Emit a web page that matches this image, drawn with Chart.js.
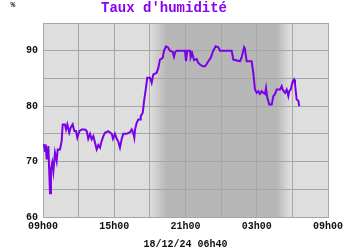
<!DOCTYPE html>
<html>
<head>
<meta charset="utf-8">
<script src="https://cdn.jsdelivr.net/npm/chart.js@4"></script>
<style>
  html, body { margin: 0; padding: 0; background: #fff; }
  #wrap { width: 350px; height: 250px; }
</style>
</head>
<body>
<div id="wrap"><canvas id="humChart" width="350" height="250"></canvas></div>
<script>
// hours elapsed since 09h00 on 17/12
const hours = [
  0, 0.08, 0.17, 0.23, 0.31, 0.45, 0.59, 0.67, 0.78, 0.87, 1.01, 1.15, 1.24, 1.43, 1.57,
  1.66, 1.85, 1.94, 2.05, 2.21, 2.33, 2.50, 2.64, 2.78, 2.89, 3.06, 3.26, 3.54, 3.68,
  3.81, 3.96, 4.10, 4.24, 4.38, 4.52, 4.66, 4.80, 4.94, 5.08, 5.22, 5.50, 5.79, 5.89,
  6.06, 6.21, 6.34, 6.48, 6.63, 6.76, 7.05, 7.33, 7.47, 7.60, 7.69, 7.75, 7.89, 8.03,
  8.17, 8.23, 8.40, 8.51, 8.67, 8.78, 9.01, 9.15, 9.29, 9.57, 9.71, 9.85, 10.08, 10.19,
  10.36, 10.53, 10.69, 10.92, 11.03, 11.14, 11.26, 11.96, 12.04, 12.15, 12.38, 12.44,
  12.57, 12.72, 12.94, 13.08, 13.22, 13.45, 13.64, 13.79, 13.92, 14.12, 14.34, 14.54,
  14.76, 14.91, 15.89, 16.03, 16.59, 16.73, 16.93, 17.01, 17.15, 17.57, 17.71, 17.85,
  18.00, 18.13, 18.27, 18.42, 18.55, 18.69, 18.78, 18.89, 19.06, 19.26, 19.40, 19.54,
  19.68, 19.96, 20.10, 20.18, 20.38, 20.52, 20.66, 20.74, 20.86, 21.03, 21.14, 21.22,
  21.36, 21.50, 21.58
];
const humidity = [
  73, 73.1, 71.9, 73.1, 70.4, 72.8, 64.3, 68.6, 69.8, 68.2, 71.6, 70.1, 72.2, 72.2, 73.7,
  76.7, 76.7, 75.8, 76.7, 75.2, 76.1, 76.7, 75.5, 75.5, 74.3, 75.5, 75.8, 75.8, 75.5,
  74.1, 75.0, 74.0, 74.6, 73.4, 72.2, 73.0, 72.5, 73.7, 74.6, 75.2, 75.5, 75.0, 74.1,
  75.0, 74.1, 73.6, 72.5, 74.1, 75.0, 75.0, 75.3, 75.8, 75.2, 74.3, 75.8, 77.0, 77.6,
  77.6, 78.2, 78.8, 80.9, 83.3, 85.1, 85.1, 84.2, 85.7, 86.0, 86.9, 88.4, 88.7, 90.0,
  90.8, 90.6, 90.0, 89.8, 88.9, 89.8, 90.0, 90.0, 88.1, 90.0, 90.0, 88.8,
  89.5, 88.3, 88.5, 87.8, 87.5, 87.2, 87.2, 87.6, 88.1, 88.7, 90.0, 90.8,
  90.6, 90.0, 90.0, 88.4, 88.1, 88.8, 90.6, 90.2, 88.1, 88.1, 86.0, 83.0,
  82.4, 82.7, 82.2, 82.7, 82.4, 82.2, 83.3, 81.5, 80.3, 80.3, 81.8, 82.2,
  83.0, 83.0, 83.6, 83.0, 82.4, 83.0, 81.8, 82.7, 83.0, 84.5, 84.8, 84.0,
  81.2, 81.0, 80.0
];
const xTickLabels = ['09h00', '', '15h00', '', '21h00', '', '03h00', '', '09h00'];
const yTickLabels = { 60: '60', 70: '70', 80: '80', 90: '90' };

// night band (hours since 09h00): fade in, full dark, fade out
const nightStart = 9.0, nightFull = 10.4, nightFade = 19.7, nightEnd = 20.8;

const purple = '#7a00e8';
const monoFont = { family: '"Liberation Mono", "DejaVu Sans Mono", monospace', weight: 'bold' };

const nightPlugin = {
  id: 'nightPlugin',
  beforeDraw(chart) {
    const { ctx, chartArea: a, scales: { x } } = chart;
    ctx.save();
    ctx.fillStyle = '#dedede';
    ctx.fillRect(a.left, a.top, a.width, a.height);
    const x0 = x.getPixelForValue(nightStart);
    const x1 = x.getPixelForValue(nightFull);
    const x2 = x.getPixelForValue(nightFade);
    const x3 = x.getPixelForValue(nightEnd);
    const g = ctx.createLinearGradient(x0, 0, x3, 0);
    const w = x3 - x0;
    g.addColorStop(0, '#dedede');
    g.addColorStop((x1 - x0) / w, '#b7b7b7');
    g.addColorStop((x2 - x0) / w, '#b7b7b7');
    g.addColorStop(1, '#dedede');
    ctx.fillStyle = g;
    ctx.fillRect(x0, a.top, w, a.height);
    ctx.restore();
  },
  afterDraw(chart) {
    const { ctx } = chart;
    ctx.save();
    ctx.fillStyle = '#222';
    ctx.font = 'bold 8px "Liberation Mono", monospace';
    ctx.textAlign = 'center';
    ctx.textBaseline = 'middle';
    ctx.fillText('%', 13, 5);
    ctx.restore();
  }
};

new Chart(document.getElementById('humChart').getContext('2d'), {
  type: 'line',
  data: {
    datasets: [{
      data: hours.map((h, i) => ({ x: h, y: humidity[i] })),
      borderColor: purple,
      borderWidth: 2,
      pointRadius: 0,
      tension: 0,
      fill: false
    }]
  },
  options: {
    responsive: false,
    animation: false,
    layout: { padding: { top: 0, right: 22, left: 0, bottom: 0 } },
    plugins: {
      legend: { display: false },
      tooltip: { enabled: false },
      title: {
        display: true,
        text: "Taux d'humidité",
        color: '#8a00f0',
        font: { ...monoFont, size: 14, lineHeight: 1 },
        padding: { top: 1, bottom: 8 }
      }
    },
    scales: {
      x: {
        type: 'linear',
        min: 0,
        max: 24,
        afterFit(s) { s.height = 33; },
        grid: { color: '#a6a6a6', lineWidth: 1, drawTicks: false },
        border: { color: '#a6a6a6' },
        ticks: {
          stepSize: 3,
          autoSkip: false,
          maxRotation: 0,
          padding: 3,
          color: '#111',
          font: { ...monoFont, size: 10 },
          callback: (v) => xTickLabels[Math.round(v / 3)] ?? ''
        },
        title: {
          display: true,
          text: '18/12/24 06h40',
          color: '#111',
          font: { ...monoFont, size: 10, lineHeight: 1 },
          padding: { top: 0, bottom: 1 }
        }
      },
      y: {
        min: 60,
        max: 95,
        afterFit(s) { s.width = 43; },
        grid: { color: '#a6a6a6', lineWidth: 1, drawTicks: false },
        border: { color: '#a6a6a6' },
        ticks: {
          stepSize: 5,
          padding: 5,
          color: '#111',
          font: { ...monoFont, size: 10 },
          callback: (v) => yTickLabels[v] ?? ''
        }
      }
    }
  },
  plugins: [nightPlugin]
});
</script>
</body>
</html>
